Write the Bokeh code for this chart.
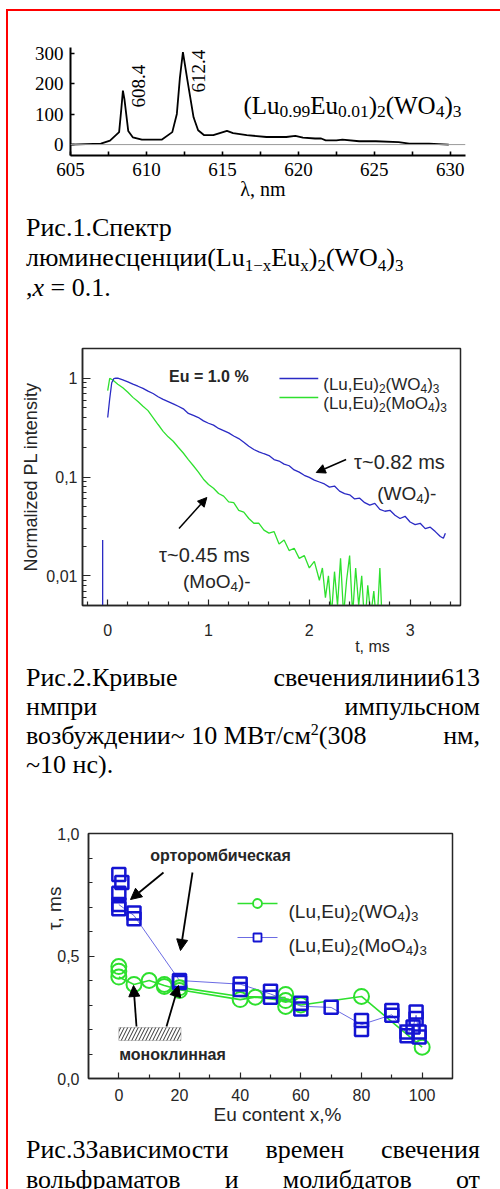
import math
from bokeh.plotting import figure
from bokeh.models import (Label, Arrow, NormalHead, Span, FixedTicker, Div, Spacer,
                          BoxAnnotation, Range1d, Title)
from bokeh.layouts import column, row
from bokeh.embed import file_html
from bokeh.resources import INLINE

# ---------------- data ----------------
# Fig 1: luminescence spectrum
spec_nm = [605.0, 607.0, 607.6, 608.2, 608.35, 608.45, 608.55, 608.8, 609.1, 609.7, 611.0,
           611.7, 612.0, 612.2, 612.4, 612.7, 613.1, 613.4, 613.8, 614.4, 615.3, 615.7,
           616.6, 617.9, 619.2, 619.8, 620.3, 621.1, 621.5, 621.8, 622.5, 622.9, 624.0,
           625.1, 626.6, 627.3, 628.6, 629.9]
spec_int = [0, 3, 13, 41, 120, 178, 150, 45, 24, 16, 16,
            41, 101, 220, 305, 211, 90, 47, 31, 31, 45, 38,
            31, 25, 25, 29, 23, 20, 20, 14, 14, 16, 11,
            11, 8, 3, 3, 0]
peak_pos = [608.4, 612.4]
peak_lbl = ["608.4", "612.4"]

# Fig 2: decay curves
wo_t = [0.00, 0.02, 0.04, 0.06, 0.08, 0.10, 0.15, 0.20, 0.25, 0.30, 0.35, 0.40, 0.45, 0.50,
        0.55, 0.60, 0.65, 0.70, 0.75, 0.80, 0.85, 0.90, 0.95, 1.00, 1.05, 1.10, 1.15, 1.20,
        1.25, 1.30, 1.35, 1.40, 1.45, 1.50, 1.55, 1.60, 1.65, 1.70, 1.75, 1.80, 1.85, 1.90,
        1.95, 2.00, 2.05, 2.10, 2.15, 2.20, 2.25, 2.30, 2.35, 2.40, 2.45, 2.50, 2.55, 2.60,
        2.65, 2.70, 2.75, 2.80, 2.85, 2.90, 2.95, 3.00, 3.05, 3.10, 3.15, 3.20, 3.25, 3.30,
        3.33, 3.35]
wo_I = [0.40, 0.62, 0.90, 0.99, 1.00, 1.00, 0.96, 0.92, 0.87, 0.83, 0.79, 0.74, 0.70, 0.65,
        0.61, 0.58, 0.55, 0.52, 0.49, 0.44, 0.42, 0.40, 0.37, 0.35, 0.335, 0.31, 0.295, 0.28,
        0.26, 0.245, 0.225, 0.205, 0.19, 0.18, 0.172, 0.165, 0.15, 0.145, 0.135, 0.13, 0.118, 0.112,
        0.104, 0.099, 0.093, 0.089, 0.085, 0.079, 0.081, 0.072, 0.068, 0.066, 0.060, 0.061, 0.055, 0.052,
        0.054, 0.047, 0.045, 0.046, 0.041, 0.038, 0.040, 0.035, 0.033, 0.034, 0.030, 0.031, 0.028, 0.025,
        0.024, 0.027]
wo_pre_t = [-0.05, -0.05]
wo_pre_I = [0.001, 0.023]
mo_t = [0.00, 0.02, 0.05, 0.10, 0.15, 0.20, 0.25, 0.30, 0.35, 0.40, 0.45, 0.50, 0.55, 0.60,
        0.65, 0.70, 0.75, 0.80, 0.85, 0.90, 0.95, 1.00, 1.05, 1.10, 1.15, 1.20, 1.25, 1.30,
        1.35, 1.40, 1.45, 1.50, 1.55, 1.60, 1.65, 1.70, 1.75, 1.80, 1.85, 1.90, 1.95, 2.00,
        2.05, 2.10, 2.13, 2.16, 2.19, 2.22, 2.25, 2.28, 2.31, 2.34, 2.37, 2.40, 2.43, 2.46,
        2.49, 2.52, 2.55, 2.58, 2.61, 2.64, 2.67, 2.70, 2.72, 2.74]
mo_I = [0.75, 1.00, 0.96, 0.87, 0.80, 0.72, 0.64, 0.58, 0.52, 0.47, 0.40, 0.34, 0.29, 0.255,
        0.23, 0.20, 0.175, 0.15, 0.13, 0.112, 0.095, 0.084, 0.077, 0.068, 0.064, 0.056, 0.055, 0.046,
        0.044, 0.038, 0.034, 0.034, 0.029, 0.027, 0.028, 0.021, 0.023, 0.018, 0.019, 0.015, 0.016, 0.012,
        0.014, 0.009, 0.012, 0.006, 0.010, 0.004, 0.011, 0.005, 0.015, 0.004, 0.009, 0.016, 0.004, 0.012,
        0.005, 0.010, 0.003, 0.008, 0.004, 0.007, 0.003, 0.012, 0.004, 0.004]

# Fig 3: lifetime vs Eu content
wo_x = [0, 0, 0, 5, 10, 15, 15, 20, 20, 40, 45, 55, 55, 55, 60, 80, 100]
wo_tau = [0.457, 0.438, 0.414, 0.384, 0.40, 0.384, 0.376, 0.37, 0.359, 0.322, 0.332,
          0.343, 0.318, 0.294, 0.30, 0.335, 0.128]
wo_line_x = [0, 5, 10, 15, 20, 40, 45, 55, 60, 80, 100]
wo_line_tau = [0.414, 0.384, 0.40, 0.38, 0.362, 0.322, 0.332, 0.318, 0.30, 0.335, 0.128]
wo_line2_x = [20, 40, 55]
wo_line2_tau = [0.372, 0.335, 0.33]
mo_x = [0, 1, 0, 0, 0, 5, 5, 20, 20, 40, 40, 50, 50, 60, 60, 70, 80, 80, 90, 90,
        95, 95, 97, 98, 98, 99, 99]
mo_tau = [0.833, 0.80, 0.756, 0.71, 0.693, 0.676, 0.652, 0.40, 0.392, 0.386, 0.363, 0.356, 0.332,
          0.307, 0.284, 0.291, 0.237, 0.20, 0.278, 0.258, 0.19, 0.175, 0.21, 0.271, 0.245,
          0.19, 0.169]
mo_line_x = [0, 5, 20, 40, 50, 60, 70, 80, 90, 95, 97, 98, 99]
mo_line_tau = [0.71, 0.665, 0.40, 0.385, 0.345, 0.295, 0.29, 0.22, 0.26, 0.183, 0.21, 0.258, 0.18]

BLUE2 = "#2a2ac4"
GREEN2 = "#2ee02e"
BLUE3 = "#1414d2"
GREEN3 = "#2ee02e"
DARK = "#262626"

# ---------------- text helpers ----------------
SANS_W = {' ': 278, '%': 889, '(': 333, ')': 333, ',': 278, '-': 333, '.': 278, '/': 278,
          '=': 584, '~': 584, 'A': 667, 'E': 667, 'L': 556, 'M': 833, 'O': 778, 'P': 667,
          'W': 944, 'a': 556, 'c': 500, 'd': 556, 'e': 556, 'i': 222, 'l': 222, 'm': 833,
          'n': 556, 'o': 556, 'r': 333, 's': 500, 't': 278, 'u': 556, 'x': 500, 'y': 500,
          'z': 500, 'τ': 480}
SERIF_W = {' ': 250, '(': 333, ')': 333, ',': 250, '.': 250, 'E': 611, 'L': 611, 'O': 722,
           'W': 944, 'u': 500, 'n': 500, 'm': 778, 'λ': 440}
for d in "0123456789":
    SANS_W[d] = 556
    SERIF_W[d] = 500


def text_w(s, fam, size):
    tbl = SERIF_W if fam == "serif" else SANS_W
    return sum(tbl.get(ch, 540) for ch in s) * size / 1000.0


def rich(p, x, y, pieces, fam, size, color, align="left"):
    font = "Liberation Serif" if fam == "serif" else "Liberation Sans"
    items = []
    for t, kind in pieces:
        sz = size * 0.7 if kind == "sub" else size
        dy = -0.24 * size if kind == "sub" else 0
        style = "italic" if kind == "i" else "normal"
        items.append((t, sz, dy, style, text_w(t, fam, sz)))
    total = sum(it[4] for it in items)
    off = {"left": 0.0, "center": -total / 2.0, "right": -total}[align]
    for t, sz, dy, style, w in items:
        p.add_layout(Label(x=x, y=y, x_offset=off, y_offset=dy, text=t, text_font=font,
                           text_font_size="%.1fpx" % sz, text_font_style=style,
                           text_color=color, text_baseline="alphabetic", text_align="left"))
        off += w


def side_title(p, text, side, offset, standoff, font, size, color, style="normal"):
    p.add_layout(Title(text=text, align="left", offset=offset, standoff=standoff,
                       text_font=font, text_font_size=size, text_font_style=style,
                       text_color=color), side)


def c1(px, py):
    return 605 + (px - 70) / 395.0 * 26, -36 + (155 - py) / 108.0 * 356


def c2(px, py):
    return (-0.25 + (px - 80) / 380.0 * 3.75,
            10 ** (math.log10(0.005) + (605 - py) / 257.0 * math.log10(400)))


def c3(px, py):
    return -10 + (px - 88) / 364.0 * 120, (1078 - py) / 245.0


def style_axes(p, font, size, color, lw):
    for ax in (p.xaxis[0], p.yaxis[0]):
        ax.axis_line_color = color
        ax.axis_line_width = lw
        ax.major_tick_line_color = color
        ax.minor_tick_line_color = color
        ax.major_tick_line_width = lw * 0.8
        ax.minor_tick_line_width = lw * 0.8
        ax.major_tick_in = 6
        ax.major_tick_out = 0
        ax.minor_tick_in = 4
        ax.minor_tick_out = 0
        ax.major_label_text_font = font
        ax.major_label_text_font_size = size
        ax.major_label_text_color = color
    p.xgrid.visible = False
    p.ygrid.visible = False


BL, BR = 62, 35   # common left / right borders (frames shifted by spacers)

# ---------------- Fig 1 ----------------
p1 = figure(width=BL + 395 + BR, height=194, x_range=Range1d(605, 631), y_range=Range1d(-36, 320),
            output_backend="svg", toolbar_location=None,
            min_border_left=BL, min_border_right=BR, min_border_top=36, min_border_bottom=50)
p1.outline_line_color = None
style_axes(p1, "Liberation Serif", "19px", "black", 2)
p1.xaxis.ticker = FixedTicker(ticks=[605, 610, 615, 620, 625, 630],
                              minor_ticks=[607.5, 612.5, 617.5, 622.5, 627.5])
p1.yaxis.ticker = FixedTicker(ticks=[0, 100, 200, 300], minor_ticks=[])
p1.xaxis.major_label_standoff = 7
p1.yaxis.major_label_standoff = 7
p1.xaxis.major_tick_in = 4
p1.xaxis.minor_tick_in = 4
p1.yaxis.major_tick_in = 4
p1.add_layout(Span(location=0, dimension="width", line_color="#9a9a9a", line_width=1))
p1.line(spec_nm, spec_int, line_color="black", line_width=1.8)
for pos, lbl, px, py in zip(peak_pos, peak_lbl, [138, 198], [107, 92]):
    lx, ly = c1(px, py)
    p1.add_layout(Label(x=lx, y=ly, text=lbl, angle=math.pi / 2, text_font="Liberation Serif",
                        text_font_size="19px", text_color="black", text_align="left",
                        text_baseline="middle"))
fx, fy = c1(243, 105)
rich(p1, fx, fy, [("(", "n"), ("Lu", "n"), ("0.99", "sub"), ("Eu", "n"), ("0.01", "sub"),
                  (")", "n"), ("2", "sub"), ("(WO", "n"), ("4", "sub"), (")", "n"), ("3", "sub")],
     "serif", 25, "black")
side_title(p1, "λ, nm", "below", 262 - 70 - text_w("λ, nm", "serif", 20) / 2, -6,
           "Liberation Serif", "20px", "black")

# ---------------- Fig 2 ----------------
p2 = figure(width=BL + 380 + BR, height=332, x_range=Range1d(-0.25, 3.5), y_range=Range1d(0.005, 2),
            y_axis_type="log", output_backend="svg", toolbar_location=None,
            min_border_left=BL, min_border_right=BR, min_border_top=18, min_border_bottom=57)
p2.outline_line_color = DARK
p2.outline_line_width = 1.5
style_axes(p2, "Liberation Sans", "16px", DARK, 1.5)
p2.xaxis.ticker = FixedTicker(ticks=[0, 1, 2, 3],
                              minor_ticks=[round(-0.2 + 0.2 * i, 2) for i in range(19) if i % 5 != 1])
p2.yaxis.ticker = FixedTicker(ticks=[0.01, 0.1, 1],
                              minor_ticks=[0.006, 0.007, 0.008, 0.009] +
                              [k / 100 for k in range(2, 10)] + [k / 10 for k in range(2, 10)] + [2])
p2.yaxis.major_label_overrides = {0.01: "0,01", 0.1: "0,1", 1: "1"}
p2.yaxis.major_tick_in = 8
p2.xaxis.major_label_standoff = 18
p2.yaxis.major_label_standoff = 5
p2.yaxis.axis_label = "Normalized PL intensity"
p2.yaxis.axis_label_text_font = "Liberation Sans"
p2.yaxis.axis_label_text_font_size = "18px"
p2.yaxis.axis_label_text_font_style = "normal"
p2.yaxis.axis_label_text_color = DARK
p2.yaxis.axis_label_standoff = 2
p2.line(wo_pre_t, wo_pre_I, line_color=BLUE2, line_width=1.3)
p2.line(mo_t, mo_I, line_color=GREEN2, line_width=1.3)
p2.line(wo_t, wo_I, line_color=BLUE2, line_width=1.3)
# legend
for col, py, comp in [(BLUE2, 378, "(WO"), (GREEN2, 397, "(MoO")]:
    xa, ya = c2(278, py)
    xb, _ = c2(317, py)
    p2.segment(x0=[xa], y0=[ya], x1=[xb], y1=[ya], line_color=col, line_width=1.5)
    tx, ty = c2(322, py + 6)
    rich(p2, tx, ty, [("(Lu,Eu)", "n"), ("2", "sub"), (comp, "n"), ("4", "sub"), (")", "n"),
                      ("3", "sub")], "sans", 17, DARK)
ex, ey = c2(207, 376)
p2.add_layout(Label(x=ex, y=ey, text="Eu = 1.0 %", text_font="Liberation Sans", text_font_size="16px",
                    text_font_style="bold", text_color=DARK, text_align="center",
                    text_baseline="middle"))
ax_, ay_ = c2(353, 461)
p2.add_layout(Label(x=ax_, y=ay_, text="τ~0.82 ms", text_font="Liberation Sans", text_font_size="20px",
                    text_color=DARK, text_align="left", text_baseline="alphabetic"))
ax_, ay_ = c2(406, 493)
rich(p2, ax_, ay_, [("(WO", "n"), ("4", "sub"), (")-", "n")], "sans", 19, DARK, "center")
ax_, ay_ = c2(157, 554)
p2.add_layout(Label(x=ax_, y=ay_, text="τ~0.45 ms", text_font="Liberation Sans", text_font_size="20px",
                    text_color=DARK, text_align="left", text_baseline="alphabetic"))
ax_, ay_ = c2(215, 581)
rich(p2, ax_, ay_, [("(MoO", "n"), ("4", "sub"), (")-", "n")], "sans", 19, DARK, "center")
for (sx, sy, ex_, ey_) in [(345, 459, 315, 472), (177, 528, 205, 497)]:
    a0 = c2(sx, sy)
    a1 = c2(ex_, ey_)
    p2.add_layout(Arrow(end=NormalHead(size=9, fill_color="black", line_color="black"),
                        x_start=a0[0], y_start=a0[1], x_end=a1[0], y_end=a1[1],
                        line_color="black", line_width=1.5))
side_title(p2, "t, ms", "below", 370 - 80 - text_w("t, ms", "sans", 16) / 2, -6,
           "Liberation Sans", "16px", DARK)

# ---------------- Fig 3 ----------------
p3 = figure(width=BL + 364 + BR, height=318, x_range=Range1d(-10, 110), y_range=Range1d(0, 1),
            output_backend="svg", toolbar_location=None,
            min_border_left=BL, min_border_right=BR, min_border_top=21, min_border_bottom=52)
p3.outline_line_color = DARK
p3.outline_line_width = 1.5
style_axes(p3, "Liberation Sans", "16px", DARK, 1.5)
p3.xaxis.ticker = FixedTicker(ticks=[0, 20, 40, 60, 80, 100], minor_ticks=[10, 30, 50, 70, 90])
p3.yaxis.ticker = FixedTicker(ticks=[0, 0.5, 1.0],
                              minor_ticks=[0.1, 0.2, 0.3, 0.4, 0.6, 0.7, 0.8, 0.9])
p3.yaxis.major_label_overrides = {0: "0,0", 0.5: "0,5", 1: "1,0"}
p3.xaxis.major_label_standoff = 10
p3.yaxis.major_label_standoff = 9
p3.add_layout(BoxAnnotation(left=0, right=20.5, bottom=0.155, top=0.208, fill_color="white",
                            fill_alpha=1, line_color="#555555", line_width=1,
                            hatch_pattern="/", hatch_color="#333333", hatch_scale=7,
                            hatch_weight=1))
p3.line(wo_line_x, wo_line_tau, line_color=GREEN3, line_width=1.6)
p3.line(wo_line2_x, wo_line2_tau, line_color=GREEN3, line_width=1.6)
p3.line(mo_line_x, mo_line_tau, line_color="#5a5ae0", line_width=0.9)
p3.scatter(wo_x, wo_tau, marker="circle", size=15, fill_color=None, line_color=GREEN3,
           line_width=2)
p3.scatter(mo_x, mo_tau, marker="square", size=13, fill_color=None, line_color=BLUE3,
           line_width=2.5)
# legend
for col, py, comp, mk, lw, ms in [(GREEN3, 903, "(WO", "circle", 1.6, 9),
                                  (BLUE3, 937, "(MoO", "square", 0.9, 8)]:
    xa, ya = c3(237, py)
    xb, _ = c3(277, py)
    xm, _ = c3(257, py)
    p3.segment(x0=[xa], y0=[ya], x1=[xb], y1=[ya], line_color=col if mk == "circle" else "#5a5ae0",
               line_width=lw)
    p3.scatter([xm], [ya], marker=mk, size=ms, fill_color="white", line_color=col, line_width=1.8)
    tx, ty = c3(288, py + 8)
    rich(p3, tx, ty, [("(Lu,Eu)", "n"), ("2", "sub"), (comp, "n"), ("4", "sub"), (")", "n"),
                      ("3", "sub")], "sans", 19, DARK)
ox, oy = c3(220, 855)
p3.add_layout(Label(x=ox, y=oy, text="орторомбическая", text_font="Liberation Sans",
                    text_font_size="16px", text_font_style="bold", text_color=DARK,
                    text_align="center", text_baseline="middle"))
mx, my = c3(172, 1054)
p3.add_layout(Label(x=mx, y=my, text="моноклинная", text_font="Liberation Sans",
                    text_font_size="16px", text_font_style="bold", text_color=DARK,
                    text_align="center", text_baseline="middle"))
for (sx, sy, ex_, ey_) in [(163, 872, 130, 899), (192, 872, 180, 950),
                           (136, 1026, 133, 985), (166, 1026, 178, 985)]:
    a0 = c3(sx, sy)
    a1 = c3(ex_, ey_)
    p3.add_layout(Arrow(end=NormalHead(size=11, fill_color="black", line_color="black"),
                        x_start=a0[0], y_start=a0[1], x_end=a1[0], y_end=a1[1],
                        line_color="black", line_width=1.8))
side_title(p3, "τ, ms", "left", 1078 - 907 - text_w("τ, ms", "sans", 19) / 2, -20,
           "Liberation Sans", "19px", DARK)
side_title(p3, "Eu content x,%", "below", 277 - 88 - text_w("Eu content x,%", "sans", 19) / 2, -3,
           "Liberation Sans", "19px", DARK)

for p in (p1, p2, p3):
    p.background_fill_color = "white"
    p.border_fill_color = "white"

# ---------------- captions ----------------
CAP = ("font-family:'Liberation Serif','Times New Roman',serif;font-size:26px;line-height:30px;"
       "color:#000;margin:0;width:492px;box-sizing:border-box;")
SUB = "<sub style='font-size:17px;line-height:0;vertical-align:-5px'>%s</sub>"
SUP = "<sup style='font-size:16px;line-height:0;vertical-align:9px'>%s</sup>"
FLEX = "display:flex;justify-content:space-between;white-space:nowrap;width:100%;"


def flex_line(parts):
    return "<div style='%s'>%s</div>" % (FLEX, "".join("<span>%s</span>" % s for s in parts))


cap1_html = ("<div style=\"%spadding:8px 20px 0 18px;\">"
             "<div style='white-space:nowrap'>Рис.1.Спектр</div>"
             "<div style='white-space:nowrap'>люминесценции(Lu%sEu%s)%s(WO%s)%s</div>"
             "<div style='white-space:nowrap'>,<i>x</i> = 0.1.</div></div>"
             % (CAP, SUB % "1−x", SUB % "x", SUB % "2", SUB % "4", SUB % "3"))
cap2_html = ("<div style=\"%spadding:1px 20px 0 18px;line-height:29px;\">%s%s%s"
             "<div style='white-space:nowrap'>~10 нс).</div></div>"
             % (CAP, flex_line(["Рис.2.Кривые", "свечениялинии613"]),
                flex_line(["нмпри", "импульсном"]),
                flex_line(["возбуждении~ 10 МВт/см%s(308" % (SUP % "2"), "нм,"])))
cap3_html = ("<div style=\"%spadding:5px 20px 0 18px;\">%s%s</div>"
             % (CAP, flex_line(["Рис.3Зависимости", "времен", "свечения"]),
                flex_line(["вольфраматов", "и", "молибдатов", "от"])))

cap1 = Div(text=cap1_html, width=492, height=125, margin=0)
cap2 = Div(text=cap2_html, width=492, height=150, margin=0)
cap3 = Div(text=cap3_html, width=492, height=59, margin=0)

content = column(row(p1, spacing=0),
                 cap1,
                 row(Spacer(width=10, height=332), p2, spacing=0),
                 cap2,
                 row(Spacer(width=18, height=318), p3, spacing=0),
                 cap3, spacing=0)
top_line = Div(text="", width=494, height=2, margin=0, styles={"background-color": "#ff0000"})
left_line = Div(text="", width=2, height=1178, margin=0, styles={"background-color": "#ff0000"})
layout = column(Spacer(width=500, height=9),
                row(Spacer(width=6, height=2), top_line, spacing=0),
                row(Spacer(width=6, height=1178), left_line, content, spacing=0),
                spacing=0)

open("out.html", "w").write(file_html(layout, INLINE, "plot"))
